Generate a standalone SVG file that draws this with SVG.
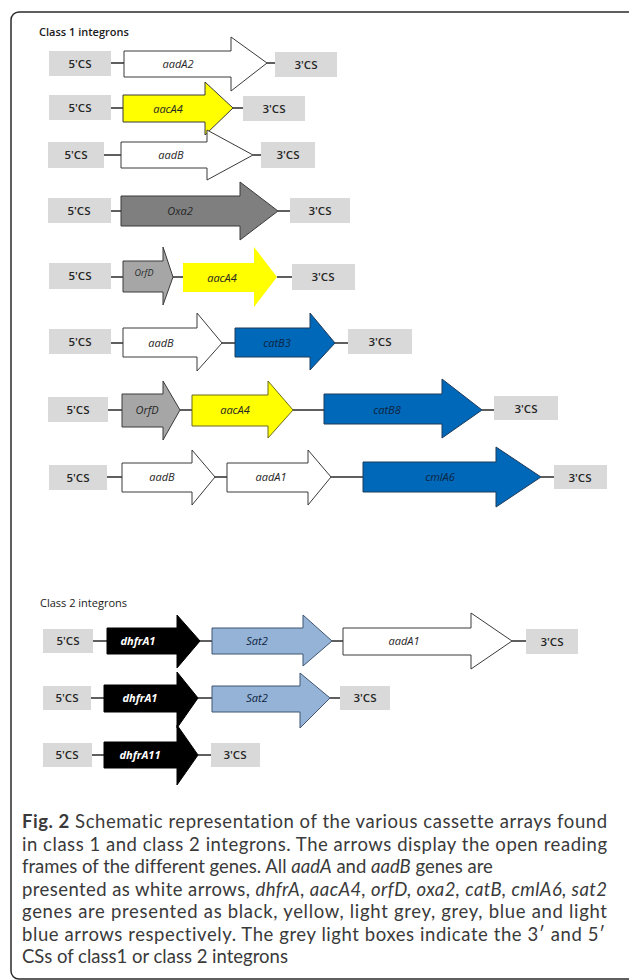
<svg xmlns="http://www.w3.org/2000/svg" width="629" height="980" viewBox="0 0 629 980">
<defs>
<style>
.bg{fill:#ffffff}
.frame{fill:none;stroke:#2b2b2b;stroke-width:1.5}
.cs{fill:#d9d9d9}
.cst{font-family:"Open Sans","Noto Sans",sans-serif;font-size:11.5px;font-weight:600;fill:#262626;text-anchor:middle}
.ln{stroke:#1a1a1a;stroke-width:1.4;fill:none}
.ar{stroke:#3a3a3a;stroke-width:1}
.white{fill:#ffffff}
.yellow{fill:#ffff00}
.yelnos{fill:#ffff00;stroke:none}
.dgrey{fill:#7f7f7f}
.lgrey{fill:#a6a6a6}
.blue{fill:#0068b8;stroke:#1f3a5a}
.lblue{fill:#95b3d7;stroke:#3f5570}
.black{fill:#000000;stroke:#000000}
.gt{font-family:"Open Sans","Noto Sans",sans-serif;font-size:11px;font-style:italic;fill:#262626;text-anchor:middle}
.gtb{font-family:"Open Sans","Noto Sans",sans-serif;font-size:11px;font-style:italic;font-weight:700;fill:#ffffff;text-anchor:middle}
.gtd{font-family:"Open Sans","Noto Sans",sans-serif;font-size:11px;font-style:italic;fill:#0d2440;text-anchor:middle}
.title{font-family:"Open Sans","Noto Sans",sans-serif;font-size:11px;font-weight:600;fill:#1a1a1a}
.cap{font-family:Lato,"Open Sans",sans-serif;font-size:18.5px;fill:#3a3a3a;font-variant-ligatures:none}
</style>
</defs>
<rect class="bg" x="0" y="0" width="629" height="980"/>
<rect class="frame" x="11" y="12" width="630" height="967" rx="8"/>

<text class="title" x="39" y="36">Class 1 integrons</text>
<text class="title" x="40" y="607" style="font-weight:400">Class 2 integrons</text>

<g id="connectors">
<line class="ln" x1="111" y1="63" x2="124" y2="63"/>
<line class="ln" x1="267" y1="63" x2="275" y2="63"/>
<line class="ln" x1="111" y1="108" x2="123" y2="108"/>
<line class="ln" x1="233" y1="108" x2="243" y2="108"/>
<line class="ln" x1="104" y1="155" x2="121" y2="155"/>
<line class="ln" x1="253" y1="155" x2="261" y2="155"/>
<line class="ln" x1="111" y1="211" x2="121" y2="211"/>
<line class="ln" x1="278" y1="211" x2="290" y2="211"/>
<line class="ln" x1="111" y1="277" x2="123" y2="277"/>
<line class="ln" x1="173" y1="277" x2="183" y2="277"/>
<line class="ln" x1="277" y1="277" x2="292" y2="277"/>
<line class="ln" x1="111" y1="343" x2="123" y2="343"/>
<line class="ln" x1="222" y1="343" x2="235" y2="343"/>
<line class="ln" x1="335" y1="343" x2="348" y2="343"/>
<line class="ln" x1="108" y1="410" x2="122" y2="410"/>
<line class="ln" x1="180" y1="410" x2="192" y2="410"/>
<line class="ln" x1="293" y1="410" x2="324" y2="410"/>
<line class="ln" x1="482" y1="410" x2="494" y2="410"/>
<line class="ln" x1="107" y1="477" x2="122" y2="477"/>
<line class="ln" x1="215" y1="477" x2="227" y2="477"/>
<line class="ln" x1="331" y1="477" x2="363" y2="477"/>
<line class="ln" x1="541" y1="477" x2="554" y2="477"/>
<line class="ln" x1="93" y1="641" x2="107" y2="641"/>
<line class="ln" x1="200" y1="641" x2="212" y2="641"/>
<line class="ln" x1="332" y1="641" x2="343" y2="641"/>
<line class="ln" x1="512" y1="641" x2="526" y2="641"/>
<line class="ln" x1="91" y1="698" x2="104" y2="698"/>
<line class="ln" x1="198" y1="698" x2="212" y2="698"/>
<line class="ln" x1="330" y1="698" x2="340" y2="698"/>
<line class="ln" x1="92" y1="755" x2="104" y2="755"/>
<line class="ln" x1="198" y1="755" x2="211" y2="755"/>
</g>

<!-- Row 1 -->
<g id="r1-5cs"><rect class="cs" x="49" y="51" width="62" height="25"/><text class="cst" x="80" y="67.5">5'CS</text></g>
<g id="r1-aadA2"><polygon class="ar white" points="124,51 231,51 231,37 267,63 231,91 231,77 124,77"/><text class="gt" x="178" y="68">aadA2</text></g>
<g id="r1-3cs"><rect class="cs" x="275" y="52" width="62" height="25"/><text class="cst" x="306" y="68.5">3'CS</text></g>

<!-- Row 2 -->
<g id="r2-5cs"><rect class="cs" x="49" y="95" width="62" height="25"/><text class="cst" x="80" y="111.5">5'CS</text></g>
<g id="r2-aacA4"><polygon class="ar yellow" points="123,95 205,95 205,82 233,108 205,135 205,122 123,122"/><text class="gt" x="168" y="113">aacA4</text></g>
<g id="r2-3cs"><rect class="cs" x="243" y="96" width="62" height="25"/><text class="cst" x="274" y="112.5">3'CS</text></g>

<!-- Row 3 -->
<g id="r3-5cs"><rect class="cs" x="48" y="142" width="56" height="26"/><text class="cst" x="76" y="159">5'CS</text></g>
<g id="r3-aadB"><polygon class="ar white" points="121,142 207,142 207,130 253,155 207,180 207,168 121,168"/><text class="gt" x="171" y="159">aadB</text></g>
<g id="r3-3cs"><rect class="cs" x="261" y="142" width="54" height="26"/><text class="cst" x="288" y="159">3'CS</text></g>

<!-- Row 4 -->
<g id="r4-5cs"><rect class="cs" x="48" y="198" width="63" height="25"/><text class="cst" x="79" y="214.5">5'CS</text></g>
<g id="r4-oxa2"><polygon class="ar dgrey" points="121,196 240,196 240,182 278,211 240,240 240,226 121,226"/><text class="gt" x="180" y="215">Oxa2</text></g>
<g id="r4-3cs"><rect class="cs" x="290" y="198" width="60" height="25"/><text class="cst" x="320" y="214.5">3'CS</text></g>

<!-- Row 5 -->
<g id="r5-5cs"><rect class="cs" x="49" y="263" width="62" height="26"/><text class="cst" x="80" y="280">5'CS</text></g>
<g id="r5-orfD"><polygon class="ar lgrey" points="123,261 163,261 163,247 173,277 163,305 163,292 123,292"/><text class="gt" x="144" y="276" style="font-size:9px">OrfD</text></g>
<g id="r5-aacA4"><polygon class="yelnos" points="183,263 254,263 254,247 277,277 254,307 254,292 183,292"/><text class="gt" x="222" y="282">aacA4</text></g>
<g id="r5-3cs"><rect class="cs" x="292" y="264" width="63" height="26"/><text class="cst" x="323" y="281">3'CS</text></g>

<!-- Row 6 -->
<g id="r6-5cs"><rect class="cs" x="49" y="329" width="62" height="25"/><text class="cst" x="80" y="345.5">5'CS</text></g>
<g id="r6-aadB"><polygon class="ar white" points="123,328 197,328 197,313 222,343 197,371 197,357 123,357"/><text class="gt" x="161" y="347">aadB</text></g>
<g id="r6-catB3"><polygon class="blue" points="235,328 310,328 310,313 335,343 310,370 310,357 235,357"/><text class="gtd" x="277" y="347">catB3</text></g>
<g id="r6-3cs"><rect class="cs" x="348" y="329" width="64" height="25"/><text class="cst" x="380" y="345.5">3'CS</text></g>

<!-- Row 7 -->
<g id="r7-5cs"><rect class="cs" x="48" y="397" width="60" height="25"/><text class="cst" x="78" y="413.5">5'CS</text></g>
<g id="r7-orfD"><polygon class="ar lgrey" points="122,394 163,394 163,381 180,410 163,440 163,427 122,427"/><text class="gt" x="147" y="414">OrfD</text></g>
<g id="r7-aacA4"><polygon class="yellow" style="stroke:#6b6b1a;stroke-width:1" points="192,395 268,395 268,381 293,410 268,438 268,426 192,426"/><text class="gt" x="235" y="414">aacA4</text></g>
<g id="r7-catB8"><polygon class="blue" points="324,394 442,394 442,379 482,410 442,438 442,424 324,424"/><text class="gtd" x="387" y="414">catB8</text></g>
<g id="r7-3cs"><rect class="cs" x="494" y="396" width="64" height="24"/><text class="cst" x="526" y="412.5">3'CS</text></g>

<!-- Row 8 -->
<g id="r8-5cs"><rect class="cs" x="49" y="465" width="58" height="25"/><text class="cst" x="78" y="481.5">5'CS</text></g>
<g id="r8-aadB"><polygon class="ar white" points="122,463 192,463 192,450 215,477 192,505 192,492 122,492"/><text class="gt" x="162" y="481">aadB</text></g>
<g id="r8-aadA1"><polygon class="ar white" points="227,463 308,463 308,450 331,477 308,505 308,492 227,492"/><text class="gt" x="271" y="481">aadA1</text></g>
<g id="r8-cmlA6"><polygon class="blue" points="363,462 496,462 496,447 541,477 496,507 496,492 363,492"/><text class="gtd" x="440" y="481">cmlA6</text></g>
<g id="r8-3cs"><rect class="cs" x="554" y="465" width="53" height="24"/><text class="cst" x="580" y="481.5">3'CS</text></g>

<!-- Class 2 Row 1 -->
<g id="c1-5cs"><rect class="cs" x="43" y="629" width="50" height="24"/><text class="cst" x="68" y="645">5'CS</text></g>
<g id="c1-dhfrA1"><polygon class="black" points="107,628 177,628 177,615 200,641 177,668 177,654 107,654"/><text class="gtb" x="138" y="645">dhfrA1</text></g>
<g id="c1-sat2"><polygon class="lblue" points="212,628 303,628 303,615 332,641 303,666 303,654 212,654"/><text class="gtd" x="257" y="645">Sat2</text></g>
<g id="c1-aadA1"><polygon class="ar white" points="343,628 471,628 471,613 512,641 471,669 471,655 343,655"/><text class="gt" x="404" y="645">aadA1</text></g>
<g id="c1-3cs"><rect class="cs" x="526" y="629" width="52" height="25"/><text class="cst" x="552" y="645.5">3'CS</text></g>

<!-- Class 2 Row 2 -->
<g id="c2-5cs"><rect class="cs" x="43" y="686" width="48" height="24"/><text class="cst" x="67" y="702">5'CS</text></g>
<g id="c2-dhfrA1"><polygon class="black" points="104,685 177,685 177,672 198,698 177,728 177,712 104,712"/><text class="gtb" x="140" y="702">dhfrA1</text></g>
<g id="c2-sat2"><polygon class="lblue" points="212,686 300,686 300,673 330,698 300,728 300,712 212,712"/><text class="gtd" x="257" y="702">Sat2</text></g>
<g id="c2-3cs"><rect class="cs" x="340" y="686" width="50" height="24"/><text class="cst" x="365" y="702">3'CS</text></g>

<!-- Class 2 Row 3 -->
<g id="c3-5cs"><rect class="cs" x="43" y="743" width="49" height="24"/><text class="cst" x="67" y="759">5'CS</text></g>
<g id="c3-dhfrA11"><polygon class="black" points="104,742 177,742 177,725 198,755 177,785 177,768 104,768"/><text class="gtb" x="140" y="759">dhfrA11</text></g>
<g id="c3-3cs"><rect class="cs" x="211" y="743" width="49" height="24"/><text class="cst" x="235" y="759">3'CS</text></g>

<!-- Caption -->
<g id="caption">
<text class="cap" x="22" y="828" textLength="585" lengthAdjust="spacing"><tspan font-weight="700">Fig. 2</tspan> Schematic representation of the various cassette arrays found</text>
<text class="cap" x="22" y="850.5" textLength="585" lengthAdjust="spacing">in class 1 and class 2 integrons. The arrows display the open reading</text>
<text class="cap" x="22" y="873">frames of the different genes. All <tspan font-style="italic">aadA</tspan> and <tspan font-style="italic">aadB</tspan> genes are</text>
<text class="cap" x="22" y="895.5" textLength="585" lengthAdjust="spacing">presented as white arrows, <tspan font-style="italic">dhfrA</tspan>, <tspan font-style="italic">aacA4, orfD, oxa2, catB, cmlA6, sat2</tspan></text>
<text class="cap" x="22" y="918" textLength="585" lengthAdjust="spacing">genes are presented as black, yellow, light grey, grey, blue and light</text>
<text class="cap" x="22" y="940.5" textLength="583" lengthAdjust="spacing">blue arrows respectively. The grey light boxes indicate the 3′ and 5′</text>
<text class="cap" x="22" y="963">CSs of class1 or class 2 integrons</text>
</g>
</svg>
